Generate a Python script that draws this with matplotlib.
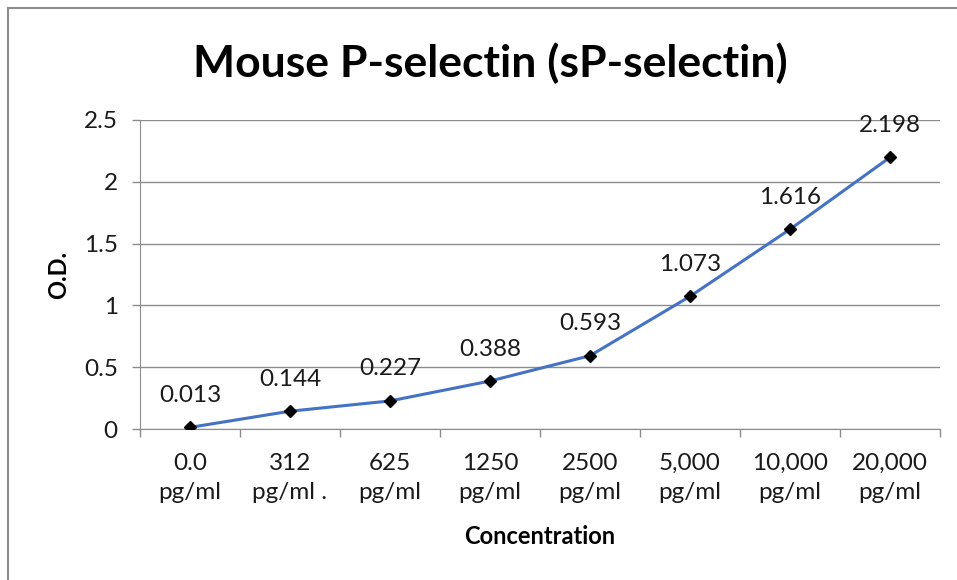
import matplotlib.pyplot as plt
import numpy as np

concentrations = ['0.0\npg/ml', '312\npg/ml .', '625\npg/ml', '1250\npg/ml', '2500\npg/ml',
                  '5,000\npg/ml', '10,000\npg/ml', '20,000\npg/ml']
od_values = [0.013, 0.144, 0.227, 0.388, 0.593, 1.073, 1.616, 2.198]
od_labels = ['0.013', '0.144', '0.227', '0.388', '0.593', '1.073', '1.616', '2.198']
y_ticks = [0, 0.5, 1, 1.5, 2, 2.5]
y_tick_labels = ['0', '0.5', '1', '1.5', '2', '2.5']

FONT = 'Lato'
FS = 17.5
grid_c = '#8c8c8c'
line_c = '#4472c4'

plt.rcParams['font.family'] = [FONT, 'DejaVu Sans']

fig = plt.figure(figsize=(9.57, 5.80), dpi=100)
ax = fig.add_axes([140/957, 1-429/580, 800/957, 309/580])

x = np.arange(len(od_values))
ax.plot(x, od_values, color=line_c, linewidth=2.2, marker='D', markersize=6.5,
        markerfacecolor='black', markeredgecolor='black', zorder=3)

for xi, yi, lab in zip(x, od_values, od_labels):
    ax.annotate(lab, (xi, yi), xytext=(0, 23), textcoords='offset points',
                ha='center', va='center', fontsize=FS, color='#1a1a1a')

ax.set_xlim(-0.5, len(od_values) - 0.5)
ax.set_ylim(0, 2.5)
ax.set_yticks(y_ticks)
ax.set_yticklabels(y_tick_labels, fontsize=FS, color='#1a1a1a')
ax.set_xticks(x)
ax.set_xticklabels(concentrations, fontsize=FS, color='#1a1a1a', linespacing=1.5)
ax.set_xticks(np.arange(-0.5, len(od_values)), minor=True)
ax.tick_params(axis='x', which='major', length=0, pad=17)
ax.tick_params(axis='x', which='minor', length=6, color=grid_c, width=1)
ax.tick_params(axis='y', length=6, color=grid_c, width=1, pad=10)

ax.grid(True, axis='y', color=grid_c, linewidth=1)
ax.set_axisbelow(True)
for s in ['top', 'right']:
    ax.spines[s].set_visible(False)
ax.spines['left'].set_color(grid_c)
ax.spines['bottom'].set_color(grid_c)

ax.set_ylabel('O.D.', fontsize=17, fontweight='bold', labelpad=10)
ax.set_xlabel('Concentration', fontsize=17, fontweight='bold', labelpad=16)

fig.text(490/957, 1-63/580, 'Mouse P-selectin (sP-selectin)', fontsize=32,
         fontweight='bold', ha='center', va='center')

# Rahmen links und oben
fig.add_artist(plt.Line2D([8/957, 8/957], [0, 1-8/580], color='#8c8c8c', linewidth=1.5,
                          transform=fig.transFigure))
fig.add_artist(plt.Line2D([8/957, 1], [1-8/580, 1-8/580], color='#8c8c8c', linewidth=1.5,
                          transform=fig.transFigure))

plt.savefig('out.png', dpi=100)
